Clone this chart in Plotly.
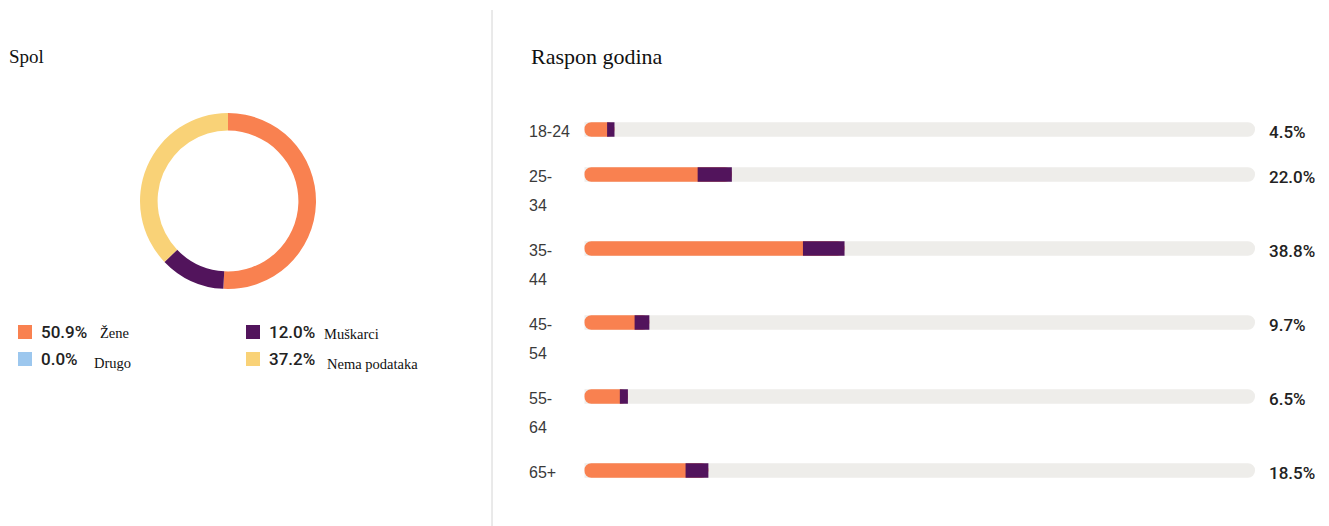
import plotly.graph_objects as go

W, H = 1329, 526

# ---------------- data ----------------
gender_labels = ["Žene", "Muškarci", "Drugo", "Nema podataka"]
gender_values = [50.9, 12.0, 0.0, 37.2]
gender_colors = ["#F98150", "#52145C", "#9CC7EE", "#F9D277"]

age_groups = ["18-24", "25-34", "35-44", "45-54", "55-64", "65+"]
age_label_lines = [["18-24"], ["25-", "34"], ["35-", "44"], ["45-", "54"], ["55-", "64"], ["65+"]]
age_female = [3.4, 16.9, 32.6, 7.5, 5.3, 15.1]
age_male = [1.1, 5.1, 6.2, 2.2, 1.2, 3.4]
age_total = [4.5, 22.0, 38.8, 9.7, 6.5, 18.5]
scale_max = 100

ORANGE, PURPLE, TRACK = gender_colors[0], gender_colors[1], "#EEEDEA"


def px(x):
    return x / W


def py(y):
    return 1 - y / H


# row positions (pixel units on a reversed y axis): rows with two-line labels are taller
row_y = []
y = 129.5
for lines in age_label_lines:
    row_y.append(y)
    y += 45 if len(lines) == 1 else 74

BAR_W = 14.5
RAD = 7

fig = go.Figure()

# donut
cx, cy, r = 228, 201, 88
fig.add_trace(go.Pie(
    labels=gender_labels, values=gender_values, hole=0.8, sort=False,
    direction="clockwise", rotation=0, textinfo="none",
    marker=dict(colors=gender_colors, line=dict(width=0)),
    domain=dict(x=[px(cx - r), px(cx + r)], y=[py(cy + r), py(cy - r)]),
    showlegend=False, hoverinfo="label+percent",
))

# background track
fig.add_trace(go.Bar(y=row_y, x=[scale_max] * len(age_groups), orientation="h", width=BAR_W,
                     marker=dict(color=TRACK, cornerradius=RAD, line=dict(width=0)),
                     showlegend=False, hoverinfo="skip"))
# orange layer spanning the whole filled part, drawn from its end back to 0 so the
# left end is rounded; the male segment is laid over its right part
fig.add_trace(go.Bar(y=row_y, x=[-(f + m) for f, m in zip(age_female, age_male)],
                     base=[f + m for f, m in zip(age_female, age_male)], orientation="h",
                     width=BAR_W, name="Žene",
                     marker=dict(color=ORANGE, cornerradius=RAD, line=dict(width=0)),
                     showlegend=False, customdata=age_female,
                     hovertemplate="%{customdata}%<extra>Žene</extra>"))
# male segment
fig.add_trace(go.Bar(y=row_y, x=age_male, base=age_female, orientation="h",
                     width=BAR_W, name="Muškarci",
                     marker=dict(color=PURPLE, line=dict(width=0)),
                     showlegend=False,
                     hovertemplate="%{x}%<extra>Muškarci</extra>"))

SANS = "Roboto"
SERIF = "Liberation Serif, Times New Roman, serif"

annotations = []
# titles
annotations.append(dict(text="Spol", x=px(7), y=py(56), xref="paper", yref="paper",
                        xanchor="left", yanchor="middle", showarrow=False,
                        font=dict(family=SERIF, size=19, color="#111")))
annotations.append(dict(text="Raspon godina", x=px(529), y=py(57), xref="paper", yref="paper",
                        xanchor="left", yanchor="middle", showarrow=False,
                        font=dict(family=SERIF, size=22, color="#111")))

# age labels
for lines, yy in zip(age_label_lines, row_y):
    for k, line in enumerate(lines):
        annotations.append(dict(text=line, x=px(527), y=yy, xref="paper", yref="y",
                                xanchor="left", yanchor="middle", yshift=-2 - 29 * k,
                                showarrow=False,
                                font=dict(family="Liberation Sans, Arial", size=16, color="#3a3a3a")))
# totals
for t, yy in zip(age_total, row_y):
    annotations.append(dict(text=f"{t:.1f}%", x=scale_max, y=yy, xref="x", yref="y",
                            xanchor="left", yanchor="middle", xshift=12, yshift=-2,
                            showarrow=False,
                            font=dict(family=SANS, size=17, color="#222", weight=500)))

# legend (two columns)
sq_x = [18, 246, 18, 246]
sq_y = [325, 325, 352, 352]
label_x = [98, 322, 92, 325]
label_y = [333, 334, 363, 364]
shapes = []
for i, (lab, v, c) in enumerate(zip(gender_labels, gender_values, gender_colors)):
    shapes.append(dict(type="rect", xref="paper", yref="paper",
                       x0=px(sq_x[i]), x1=px(sq_x[i] + 14), y0=py(sq_y[i] + 14), y1=py(sq_y[i]),
                       fillcolor=c, line=dict(width=0)))
    annotations.append(dict(text=f"{v:.1f}%", x=px(sq_x[i] + 21), y=py(sq_y[i] + 7),
                            xref="paper", yref="paper", xanchor="left", yanchor="middle",
                            showarrow=False,
                            font=dict(family=SANS, size=17, color="#222", weight=500)))
    annotations.append(dict(text=lab, x=px(label_x[i]), y=py(label_y[i]),
                            xref="paper", yref="paper", xanchor="left", yanchor="middle",
                            showarrow=False,
                            font=dict(family=SERIF, size=14.5, color="#111")))

# vertical divider
shapes.append(dict(type="line", xref="paper", yref="paper", x0=px(492), x1=px(492),
                   y0=py(10), y1=0, line=dict(color="#D4D4D4", width=1)))

fig.update_layout(
    width=W, height=H, margin=dict(l=0, r=0, t=0, b=0),
    paper_bgcolor="white", plot_bgcolor="white",
    barmode="overlay",
    xaxis=dict(domain=[px(584.3), px(1255)], range=[0, scale_max], visible=False, fixedrange=True),
    yaxis=dict(domain=[0, 1], range=[H, 0], visible=False, fixedrange=True),
    annotations=annotations, shapes=shapes,
    showlegend=False,
)

fig.write_html("out.html", config={"displayModeBar": False},
               post_script="document.body.style.margin='0px';document.body.style.overflow='hidden';")
